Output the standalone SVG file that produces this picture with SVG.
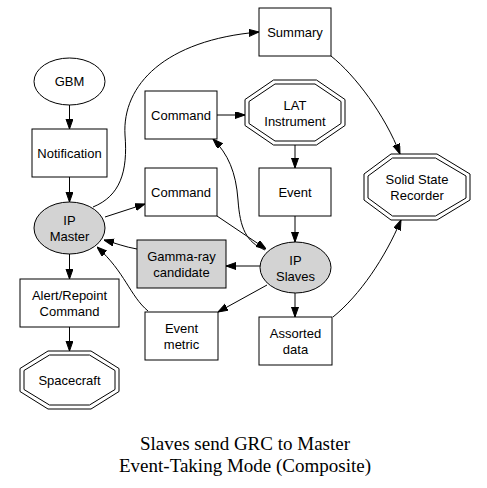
<svg xmlns="http://www.w3.org/2000/svg" width="487" height="488" viewBox="0 0 487 488">
<style>
.n{fill:#fff;stroke:#000;stroke-width:1}
.g{fill:#d3d3d3;stroke:#000;stroke-width:1}
.t{font-family:"Liberation Sans",Arial,sans-serif;font-size:13px;text-anchor:middle;fill:#000}
.ti{font-family:"Liberation Serif","Times New Roman",serif;font-size:19px;text-anchor:middle;fill:#000}
.e{fill:none;stroke:#000;stroke-width:1;marker-end:url(#ah)}
</style>
<defs>
<marker id="ah" markerUnits="userSpaceOnUse" markerWidth="10" markerHeight="8" refX="10" refY="3.5" orient="auto">
<path d="M0,0 L10,3.5 L0,7 z" fill="#000" stroke="#000" stroke-width="1"/>
</marker>
</defs>
<rect width="487" height="488" fill="#fff"/>
<g id="edges">
<path class="e" d="M69.5,105 L69.5,129"/>
<path class="e" d="M69.5,177 L69.5,202"/>
<path class="e" d="M93,207 C120,196 128,172 125,135 C122,85 165,40 259,32"/>
<path class="e" d="M105,217 L145,204"/>
<path class="e" d="M217,115 L245,115"/>
<path class="e" d="M295,145 L295,168"/>
<path class="e" d="M295,216 L295,242"/>
<path class="e" d="M265,250 C246,242 240,228 238,200 C236,172 228,154 213,139"/>
<path class="e" d="M217,216 L266,249"/>
<path class="e" d="M260,266 L226,266"/>
<path class="e" d="M267,285 L218,312"/>
<path class="e" d="M295,293 L295,317"/>
<path class="e" d="M333,317 C360,295 385,258 401,220"/>
<path class="e" d="M331,56 C355,75 385,115 400,154"/>
<path class="e" d="M137,249 C125,247 115,243 104,240"/>
<path class="e" d="M148,311 C130,296 125,272 97,247"/>
<path class="e" d="M69.5,254 L69.5,279"/>
<path class="e" d="M69.5,327 L69.5,351"/>
</g>
<g id="gbm">
<ellipse class="n" cx="69.5" cy="81.5" rx="35.5" ry="23.5"/>
<text class="t" x="69.5" y="86">GBM</text>
</g>
<g id="notification">
<rect class="n" x="32" y="129" width="75" height="48"/>
<text class="t" x="69.5" y="158">Notification</text>
</g>
<g id="ipmaster">
<ellipse class="g" cx="69.5" cy="228" rx="35.5" ry="26"/>
<text class="t" x="69.5" y="225">IP</text>
<text class="t" x="69.5" y="241">Master</text>
</g>
<g id="command1">
<rect class="n" x="145" y="91" width="72" height="48"/>
<text class="t" x="181" y="120">Command</text>
</g>
<g id="command2">
<rect class="n" x="145" y="168" width="72" height="48"/>
<text class="t" x="181" y="197">Command</text>
</g>
<g id="summary">
<rect class="n" x="259" y="8" width="72" height="48"/>
<text class="t" x="295" y="37">Summary</text>
</g>
<g id="lat">
<polygon class="n" points="273.5,80 316.5,80 345,99.5 345,125.5 316.5,145 273.5,145 245,125.5 245,99.5"/>
<polygon class="n" points="275,84 315,84 341,101.5 341,123.5 315,141 275,141 249,123.5 249,101.5"/>
<text class="t" x="295" y="109.5">LAT</text>
<text class="t" x="295" y="125.5">Instrument</text>
</g>
<g id="event">
<rect class="n" x="259" y="168" width="72" height="48"/>
<text class="t" x="295" y="197">Event</text>
</g>
<g id="ssr">
<polygon class="n" points="391,154 437,154 470,174 470,200 437,220 391,220 364,200 364,174"/>
<polygon class="n" points="392.5,158 435.5,158 466,176 466,198 435.5,216 392.5,216 368,198 368,176"/>
<text class="t" x="417" y="184">Solid State</text>
<text class="t" x="417" y="200">Recorder</text>
</g>
<g id="ipslaves">
<ellipse class="g" cx="295.5" cy="267.5" rx="35.5" ry="25.5"/>
<text class="t" x="295.5" y="264.5">IP</text>
<text class="t" x="295.5" y="280.5">Slaves</text>
</g>
<g id="gamma">
<rect class="g" x="137" y="240" width="89" height="48"/>
<text class="t" x="181.5" y="261">Gamma-ray</text>
<text class="t" x="181.5" y="277">candidate</text>
</g>
<g id="eventmetric">
<rect class="n" x="145" y="312" width="73" height="48"/>
<text class="t" x="181.5" y="333">Event</text>
<text class="t" x="181.5" y="349">metric</text>
</g>
<g id="alert">
<rect class="n" x="20" y="279" width="99" height="48"/>
<text class="t" x="69.5" y="300">Alert/Repoint</text>
<text class="t" x="69.5" y="316">Command</text>
</g>
<g id="assorted">
<rect class="n" x="259" y="317" width="73" height="48"/>
<text class="t" x="295.5" y="338">Assorted</text>
<text class="t" x="295.5" y="354">data</text>
</g>
<g id="spacecraft">
<polygon class="n" points="48,351 91,351 119,368.5 119,391.5 91,409 48,409 20,391.5 20,368.5"/>
<polygon class="n" points="49.5,355 89.5,355 115,370.5 115,389.5 89.5,405 49.5,405 24,389.5 24,370.5"/>
<text class="t" x="69.5" y="385">Spacecraft</text>
</g>
<g id="title">
<text class="ti" x="245" y="450">Slaves send GRC to Master</text>
<text class="ti" x="245" y="472">Event-Taking Mode (Composite)</text>
</g>
</svg>
